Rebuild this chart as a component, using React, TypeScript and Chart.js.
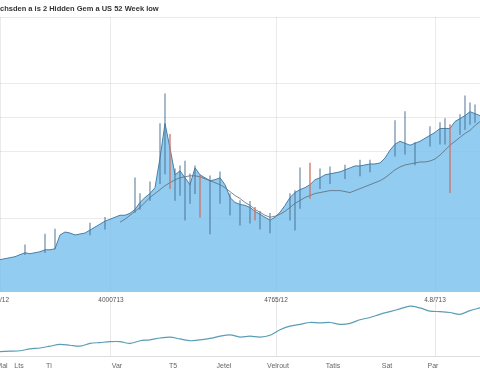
import React, { useEffect, useRef } from "react";
import { Chart, registerables } from "chart.js";

Chart.register(...registerables);
Chart.defaults.font.family = "'Liberation Sans', Arial, sans-serif";

const titleText = "chsden a is 2 Hidden Gem a US 52 Week low";

// top panel: price (close) per period index 0..96
const closeVals = [
  33, 34, 35, 36, 38, 40, 39, 40, 41, 43,
  43, 44, 58, 61, 60, 58, 59, 60, 63, 66,
  69, 72, 74, 76, 78, 78, 80, 84, 91, 96,
  100, 106, 136, 171, 146, 119, 123, 116, 109, 126,
  119, 116, 113, 114, 116, 109, 96, 91, 89, 88,
  86, 82, 79, 76, 73, 76, 81, 88, 96, 101,
  104, 106, 109, 114, 116, 119, 120, 121, 122, 124,
  126, 128, 128, 129, 130, 130, 131, 136, 144, 150,
  153, 151, 149, 151, 153, 156, 159, 162, 166, 166,
  166, 173, 176, 179, 183, 181, 179,
];

// moving average, starting at period 24
const maStart = 24;
const maVals = [
  71, 74, 78, 82, 86, 91, 96, 100, 104, 108,
  111, 114, 116, 117, 118, 118, 117, 115, 113, 111,
  109, 106, 102, 98, 95, 91, 88, 84, 81, 78,
  76, 77, 79, 82, 86, 90, 93, 96, 98, 100,
  101, 102, 103, 103, 103, 102, 101, 103, 105, 107,
  109, 111, 113, 116, 120, 124, 127, 129, 130, 131,
  132, 132, 133, 135, 139, 144, 149, 153, 157, 161,
  164, 169, 173,
];

// high-low wicks
const wickIdx = [5, 9, 11, 18, 21, 27, 28, 30, 32, 33, 34, 35, 36, 37, 38, 39, 40, 42, 44, 46, 48, 50, 51, 52, 54, 58, 59, 60, 62, 64, 66, 69, 72, 74, 79, 81, 83, 86, 88, 89, 90, 92, 93, 94, 95];
const wickLow = [38, 40, 44, 58, 64, 81, 84, 93, 110, 120, 105, 93, 98, 73, 90, 100, 76, 59, 90, 78, 68, 70, 73, 64, 60, 73, 63, 85, 95, 105, 110, 115, 118, 122, 138, 140, 129, 148, 150, 150, 101, 160, 165, 170, 172];
const wickHigh = [48, 59, 64, 70, 76, 116, 100, 112, 171, 201, 160, 125, 128, 133, 120, 128, 119, 118, 122, 100, 93, 92, 86, 82, 80, 100, 103, 126, 131, 125, 127, 129, 134, 134, 174, 183, 152, 168, 172, 176, 170, 180, 199, 192, 190];
const wickRed = [0, 0, 0, 0, 0, 0, 0, 0, 0, 0, 1, 0, 0, 0, 0, 0, 1, 0, 0, 0, 0, 0, 1, 0, 0, 0, 0, 0, 1, 0, 0, 0, 0, 0, 0, 0, 0, 0, 0, 0, 1, 0, 0, 0, 0];

const topTickPos = [0, 22.2, 55.2, 87];
const topTickLabels = ["4/7/12", "4000713", "4765/12", "4.8/713"];
const yGridVals = [75, 143, 177, 212, 279];

// bottom panel: trend line per period index 0..48
const lowerVals = [
  5, 5.5, 6, 8, 9, 11, 13, 12, 11, 14,
  15, 16, 16, 14, 17, 18, 20, 21, 19, 17,
  18, 19.5, 22, 23.5, 21, 22, 21, 23, 29, 33,
  35, 37, 36.5, 37, 35, 36, 40, 42.5, 46, 49,
  52, 55, 53, 49.5, 49, 48, 46, 50, 53,
];
const bottomLabelPos = [0.2, 1.9, 4.9, 11.7, 17.3, 22.4, 27.8, 33.3, 38.7, 43.3];
const bottomLabels = ["Mal", "Lts", "Tl", "Var", "T5", "Jetel", "Velrout", "Tatis", "Sat", "Par"];
const bottomGridPos = [11.1, 27.6, 43.5];

export default function App() {
  const topRef = useRef<HTMLCanvasElement | null>(null);
  const botRef = useRef<HTMLCanvasElement | null>(null);

  useEffect(() => {
    const gridCol = "rgba(0,0,0,0.08)";
    const top = new Chart(topRef.current as HTMLCanvasElement, {
      type: "line",
      data: {
        datasets: [
          {
            type: "bar",
            data: wickIdx.map((v, i) => ({ x: v, y: [wickLow[i], wickHigh[i]] })) as any,
            backgroundColor: wickRed.map((r) => (r ? "rgba(205,115,100,0.8)" : "rgba(75,115,150,0.6)")),
            barThickness: 1,
            order: 1,
          } as any,
          {
            type: "line",
            data: maVals.map((v, i) => ({ x: i + maStart, y: v })),
            borderColor: "#5d6b7a",
            borderWidth: 0.8,
            pointRadius: 0,
            fill: false,
            order: 2,
          },
          {
            type: "line",
            data: closeVals.map((v, i) => ({ x: i, y: v })),
            borderColor: "#4a7ea6",
            borderWidth: 1,
            pointRadius: 0,
            fill: "start",
            backgroundColor: "rgba(115,190,236,0.78)",
            order: 3,
          },
        ],
      },
      options: {
        responsive: false,
        animation: false,
        devicePixelRatio: 1,
        layout: { padding: 0 },
        plugins: {
          legend: { display: false },
          tooltip: { enabled: false },
          title: {
            display: true,
            text: titleText,
            align: "start",
            color: "#333",
            font: { size: 7.5, weight: "bold" },
            padding: { top: 4, bottom: 4 },
          },
        },
        scales: {
          x: {
            type: "linear",
            min: 0,
            max: 96,
            offset: false,
            grid: { color: gridCol, drawTicks: false, offset: false },
            border: { display: false },
            ticks: {
              autoSkip: false,
              maxRotation: 0,
              padding: 4,
              color: "#555",
              font: { size: 6.5 },
              callback: (_v: any, i: number) => topTickLabels[i] ?? "",
            },
            afterBuildTicks: (s: any) => {
              s.ticks = topTickPos.map((v) => ({ value: v }));
            },
            afterFit: (s: any) => {
              s.paddingLeft = 0;
              s.paddingRight = 0;
            },
          },
          y: {
            min: 0,
            max: 279,
            ticks: { display: false },
            grid: { color: gridCol, drawTicks: false },
            border: { display: false },
            afterBuildTicks: (s: any) => {
              s.ticks = yGridVals.map((v) => ({ value: v }));
            },
          },
        },
      } as any,
    });

    const allPos = [...bottomLabelPos, ...bottomGridPos];
    const allLab = [...bottomLabels, ...bottomGridPos.map(() => "")];
    const bot = new Chart(botRef.current as HTMLCanvasElement, {
      type: "line",
      data: {
        datasets: [
          {
            data: lowerVals.map((v, i) => ({ x: i, y: v })),
            borderColor: "#5b9db5",
            borderWidth: 1.2,
            pointRadius: 0,
            fill: false,
            tension: 0.3,
          },
        ],
      },
      options: {
        responsive: false,
        animation: false,
        devicePixelRatio: 1,
        layout: { padding: { top: 1, bottom: 7.8, left: 0, right: 0 } },
        plugins: { legend: { display: false }, tooltip: { enabled: false } },
        scales: {
          x: {
            type: "linear",
            min: 0,
            max: 48,
            grid: {
              color: (c: any) =>
                c.tick && bottomGridPos.includes(c.tick.value) ? "rgba(0,0,0,0.09)" : "rgba(0,0,0,0)",
              drawTicks: false,
            },
            border: { display: true, color: "rgba(0,0,0,0.13)" },
            ticks: {
              autoSkip: false,
              maxRotation: 0,
              padding: 5.8,
              color: "#666",
              font: { size: 7 },
              callback: (_v: any, i: number) => allLab[i] ?? "",
            },
            afterBuildTicks: (s: any) => {
              s.ticks = allPos.map((v) => ({ value: v }));
            },
            afterFit: (s: any) => {
              s.paddingLeft = 0;
              s.paddingRight = 0;
            },
          },
          y: { display: false, min: 0, max: 65 },
        },
      } as any,
    });

    return () => {
      top.destroy();
      bot.destroy();
    };
  }, []);

  return (
    <div style={{ position: "fixed", left: 0, top: 0, width: 480, height: 384, background: "#fff", overflow: "hidden" }}>
      <canvas ref={topRef} width={480} height={308} style={{ position: "absolute", left: 0, top: 0, width: 480, height: 308 }} />
      <canvas ref={botRef} width={480} height={88} style={{ position: "absolute", left: 0, top: 296, width: 480, height: 88 }} />
    </div>
  );
}
